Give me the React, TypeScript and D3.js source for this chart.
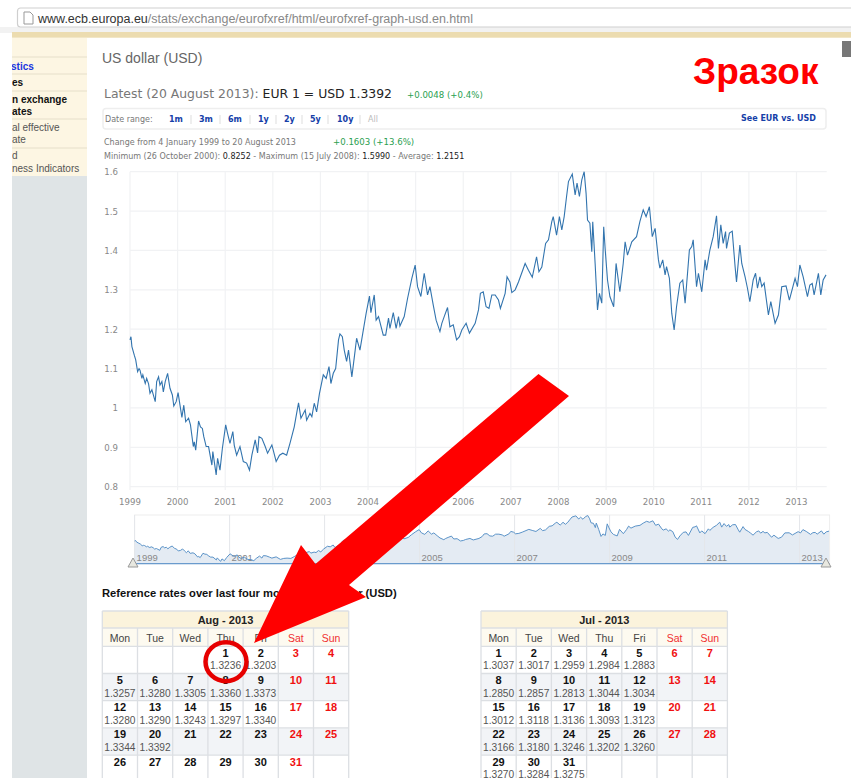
import React from "react";
import * as d3 from "d3";

const rateYears = [1999.00,1999.02,1999.04,1999.09,1999.12,1999.16,1999.19,1999.21,1999.25,1999.27,1999.32,1999.35,1999.39,1999.42,1999.46,1999.49,1999.53,1999.56,1999.60,1999.63,1999.67,1999.70,1999.74,1999.79,1999.84,1999.89,1999.92,1999.97,
2000.01,2000.05,2000.09,2000.13,2000.17,2000.23,2000.27,2000.33,2000.35,2000.38,2000.44,2000.48,2000.52,2000.55,2000.60,2000.65,2000.72,2000.74,2000.81,2000.84,2000.89,2000.94,
2001.01,2001.05,2001.10,2001.16,2001.19,2001.24,2001.31,2001.38,2001.45,2001.51,2001.56,2001.63,2001.68,2001.71,2001.77,2001.84,2001.89,2001.98,
2002.07,2002.14,2002.21,2002.29,2002.36,2002.45,2002.50,2002.54,2002.59,2002.68,2002.71,2002.78,2002.82,2002.87,2002.92,2002.98,
2003.06,2003.12,2003.18,2003.22,2003.27,2003.32,2003.38,2003.41,2003.46,2003.50,2003.55,2003.59,2003.66,2003.73,2003.76,2003.83,2003.89,2003.96,
2004.03,2004.06,2004.13,2004.17,2004.22,2004.32,2004.37,2004.43,2004.46,2004.53,2004.59,2004.64,2004.67,2004.76,2004.83,2004.92,2004.99,
2005.04,2005.11,2005.18,2005.25,2005.30,2005.37,2005.43,2005.51,2005.55,2005.60,2005.67,2005.72,2005.79,2005.86,2005.92,2005.97,
2006.06,2006.13,2006.25,2006.32,2006.36,2006.42,2006.48,2006.54,2006.60,2006.67,2006.74,2006.78,2006.88,2006.92,2006.98,
2007.02,2007.09,2007.16,2007.30,2007.37,2007.45,2007.54,2007.59,2007.65,2007.73,2007.79,2007.86,2007.89,2007.96,
2008.02,2008.07,2008.12,2008.17,2008.21,2008.29,2008.35,2008.39,2008.44,2008.49,2008.54,2008.58,2008.61,2008.66,2008.70,2008.72,2008.77,2008.82,2008.86,2008.91,2008.95,2008.98,
2009.03,2009.08,2009.16,2009.21,2009.29,2009.36,2009.40,2009.45,2009.54,2009.64,2009.71,2009.78,2009.84,2009.91,2009.97,
2010.03,2010.10,2010.13,2010.19,2010.24,2010.27,2010.33,2010.38,2010.43,2010.48,2010.55,2010.61,2010.66,2010.75,2010.80,2010.83,2010.90,2010.94,
2011.01,2011.08,2011.11,2011.18,2011.25,2011.32,2011.36,2011.41,2011.46,2011.51,2011.53,2011.59,2011.65,2011.71,2011.74,2011.81,2011.85,2011.92,2011.97,
2012.02,2012.09,2012.14,2012.18,2012.23,2012.27,2012.32,2012.41,2012.46,2012.55,2012.62,2012.69,2012.78,2012.85,2012.97,
2013.02,2013.07,2013.14,2013.23,2013.28,2013.33,2013.37,2013.46,2013.51,2013.56,2013.62];
const rateValues = [1.173,1.181,1.156,1.134,1.122,1.092,1.100,1.096,1.075,1.084,1.062,1.075,1.061,1.037,1.046,1.033,1.016,1.067,1.079,1.058,1.067,1.041,1.067,1.088,1.05,1.033,1.005,1.016,
1.039,1.007,.976,1.007,.965,.974,.957,.902,.914,.893,.967,.952,.948,.927,.902,.902,.855,.889,.83,.872,.842,.897,
.957,.935,.91,.94,.905,.88,.902,.864,.86,.842,.88,.919,.886,.927,.923,.902,.885,.906,
.864,.88,.885,.88,.91,.952,.986,1.013,.974,.995,.969,.986,.978,1.012,.99,1.037,
1.084,1.075,1.105,1.062,1.088,1.1,1.173,1.188,1.181,1.147,1.118,1.147,1.079,1.147,1.177,1.147,1.19,1.24,
1.284,1.242,1.287,1.223,1.232,1.185,1.185,1.228,1.202,1.242,1.202,1.232,1.208,1.232,1.278,1.329,1.363,
1.308,1.283,1.342,1.287,1.308,1.261,1.223,1.194,1.215,1.232,1.255,1.206,1.211,1.173,1.181,1.198,
1.215,1.19,1.215,1.249,1.291,1.295,1.257,1.253,1.287,1.287,1.274,1.253,1.291,1.333,1.32,
1.293,1.3,1.32,1.367,1.35,1.332,1.384,1.346,1.358,1.418,1.427,1.473,1.486,1.439,
1.486,1.452,1.486,1.537,1.575,1.594,1.541,1.571,1.537,1.579,1.6,1.545,1.477,1.469,1.397,1.473,1.367,1.249,1.291,1.266,1.46,1.405,
1.325,1.283,1.257,1.367,1.295,1.367,1.422,1.388,1.422,1.435,1.473,1.503,1.486,1.511,1.435,
1.456,1.376,1.355,1.376,1.338,1.359,1.329,1.24,1.198,1.257,1.317,1.325,1.266,1.401,1.41,1.427,1.308,1.342,
1.295,1.376,1.35,1.401,1.435,1.488,1.405,1.465,1.418,1.448,1.405,1.444,1.449,1.359,1.32,1.414,1.367,1.333,1.304,
1.27,1.325,1.342,1.304,1.333,1.308,1.317,1.236,1.27,1.215,1.236,1.308,1.31,1.274,1.329,
1.308,1.363,1.333,1.283,1.312,1.316,1.287,1.342,1.287,1.325,1.338];

const xTicks = [1999,2000,2001,2002,2003,2004,2005,2006,2007,2008,2009,2010,2011,2012,2013];
const yTicks = [0.8,0.9,1,1.1,1.2,1.3,1.4,1.5,1.6];
const navTicks = [1999,2001,2003,2005,2007,2009,2011,2013];
const rangeLinks: [string, number][] = [["1m",169],["3m",199],["6m",228],["1y",258],["2y",284],["5y",310],["10y",337]];
const rangeSeps = [191,220,250,276,302,328,360];
const weekdays = ["Mon","Tue","Wed","Thu","Fri","Sat","Sun"];
const augRates = ["1.3236","1.3203","","","1.3257","1.3280","1.3305","1.3360","1.3373","","","1.3280","1.3290","1.3243","1.3297","1.3340","","","1.3344","1.3392"];
const julRates = ["1.3037","1.3017","1.2959","1.2984","1.2883","","","1.2850","1.2857","1.2813","1.3044","1.3034","","","1.3012","1.3118","1.3136","1.3093","1.3123","","","1.3166","1.3180","1.3246","1.3202","1.3260","","","1.3270","1.3284","1.3275"];
const sideItems: [string, number, string, number][] = [["stics",70,"#1a35e0",700],["es",86,"#111",700],["n exchange",103,"#111",700],["ates",115,"#111",700],["al effective",131,"#555",400],["ate",143,"#555",400],["d",159,"#555",400],["ness Indicators",172,"#555",400]];
const sideLines = [57,74,91,119,148];

const SANS = "'Liberation Sans', Arial, sans-serif";
const DJ = "'DejaVu Sans', Verdana, sans-serif";

const x = d3.scaleLinear().domain([1999, 2013.63]).range([130, 826.5]);
const y = d3.scaleLinear().domain([0.8, 1.6]).range([486.7, 171.7]);
const navX = d3.scaleLinear().domain([1999, 2013.63]).range([134.6, 829.5]);
const navY = d3.scaleLinear().domain([0.825, 1.6]).range([561.7, 515.5]);
const idx = rateYears.map((_, i) => i);
const linePath = d3.line<number>().x(i => x(rateYears[i])).y(i => y(rateValues[i]))(idx) || "";
const navLine = d3.line<number>().x(i => navX(rateYears[i])).y(i => navY(rateValues[i]))(idx) || "";
const navArea = d3.area<number>().x(i => navX(rateYears[i])).y0(563.7).y1(i => navY(rateValues[i]))(idx) || "";

function Calendar({ left, title, offset, days, rates }: { left: number; title: string; offset: number; days: number; rates: string[] }) {
  const colW = 35.2;
  const W = colW * 7;
  const rowTop = 646.3;
  const rowH = 27.2;
  const cells = d3.range(days).map(i => {
    const pos = i + offset;
    return { day: i + 1, col: pos % 7, row: Math.floor(pos / 7), rate: rates[i] || "" };
  });
  const rows = d3.range(5);
  return (
    <g>
      <rect x={left} y={611} width={W} height={17} fill="#fbf3dc" />
      <rect x={left} y={628} width={W} height={18.3} fill="#fdfaf0" />
      {rows.map(r => <rect key={r} x={left} y={rowTop + r * rowH} width={W} height={rowH} fill={r % 2 ? "#f2f4f7" : "#fff"} />)}
      {d3.range(8).map(c => <line key={c} x1={left + c * colW} x2={left + c * colW} y1={c === 0 || c === 7 ? 611 : 628} y2={790} stroke="#dcdfe3" strokeWidth={1.3} />)}
      {[611, 628, 646.3, ...rows.map(r => rowTop + (r + 1) * rowH)].map(v => <line key={v} x1={left} x2={left + W} y1={v} y2={v} stroke="#dcdfe3" strokeWidth={1.3} />)}
      <text x={left + W / 2} y={624} textAnchor="middle" fontFamily={SANS} fontSize={11} fontWeight={700} fill="#222">{title}</text>
      {weekdays.map((w, c) => <text key={w} x={left + (c + 0.5) * colW} y={642} textAnchor="middle" fontFamily={SANS} fontSize={10.5} fill={c >= 5 ? "#f03030" : "#444"}>{w}</text>)}
      {cells.map(c => (
        <g key={c.day}>
          <text x={left + (c.col + 0.5) * colW} y={rowTop + c.row * rowH + 10.5} textAnchor="middle" fontFamily={SANS} fontSize={11} fontWeight={700} fill={c.col >= 5 ? "#f01010" : "#111"}>{c.day}</text>
          {c.rate && <text x={left + (c.col + 0.5) * colW} y={rowTop + c.row * rowH + 23} textAnchor="middle" fontFamily={SANS} fontSize={10.2} fill="#555">{c.rate}</text>}
        </g>
      ))}
    </g>
  );
}

export default function App() {
  return (
    <svg width={851} height={778} style={{ position: "absolute", left: 0, top: 0, background: "#fff" }}>
      <defs>
        <clipPath id="side"><rect x={12} y={38} width={75} height={740} /></clipPath>
      </defs>
      {/* browser bar */}
      <rect x={0} y={27} width={851} height={6} fill="#f2f2f2" />
      <rect x={17.5} y={8} width={840} height={19} rx={3} fill="#fff" stroke="#cfcfcf" strokeWidth={1.2} />
      <path d="M24 12h6l3 3v9h-9z" fill="#fff" stroke="#999" />
      <text x={38} y={22.5} fontFamily={SANS} fontSize={12.5}>
        <tspan fill="#333">www.ecb.europa.eu</tspan>
        <tspan fill="#888">/stats/exchange/eurofxref/html/eurofxref-graph-usd.en.html</tspan>
      </text>
      <rect x={12} y={32} width={839} height={5.7} fill="#ecdcb0" />
      {/* side panel */}
      <rect x={12} y={38} width={75} height={138} fill="#fdf6e3" />
      <rect x={12} y={176} width={75} height={602} fill="#dfe4e6" />
      {sideLines.map(v => <line key={v} x1={12} x2={87} y1={v} y2={v} stroke="#e6dfca" strokeWidth={1} />)}
      <g clipPath="url(#side)">
        {sideItems.map(([t, v, c, w]) => <text key={t} x={t === "stics" ? 11 : 12} y={v} fontFamily={SANS} fontSize={10} fontWeight={w} fill={c}>{t}</text>)}
      </g>
      {/* header */}
      <text x={102} y={63} fontFamily={SANS} fontSize={14} fill="#666">US dollar (USD)</text>
      <text x={693} y={84} fontFamily={SANS} fontSize={37} fontWeight={700} fill="#ff0000">Зразок</text>
      <rect x={842} y={41} width={9} height={16} fill="#777" />
      <text x={104} y={98} fontFamily={DJ} fontSize={12.4} fill="#777">Latest (20 August 2013): <tspan fill="#222">EUR 1 = USD 1.3392</tspan></text>
      <text x={407} y={98} fontFamily={DJ} fontSize={8.6} fill="#2aa050">+0.0048 (+0.4%)</text>
      <rect x={103} y={108.5} width={723} height={20.5} rx={3} fill="#fff" stroke="#eee" strokeWidth={1.5} />
      <text x={105} y={122} fontFamily={DJ} fontSize={8} fill="#777">Date range:</text>
      {rangeLinks.map(([t, px]) => <text key={t} x={px} y={122} fontFamily={DJ} fontSize={8} fontWeight={700} fill="#1540a8">{t}</text>)}
      <text x={368} y={122} fontFamily={DJ} fontSize={8} fill="#bbb">All</text>
      {rangeSeps.map(v => <line key={v} x1={v} x2={v} y1={115} y2={124} stroke="#ddd" />)}
      <text x={741} y={121} fontFamily={DJ} fontSize={8} fontWeight={700} fill="#1540a8">See EUR vs. USD</text>
      <text x={104} y={145} fontFamily={DJ} fontSize={8} fill="#777">Change from 4 January 1999 to 20 August 2013</text>
      <text x={333} y={145} fontFamily={DJ} fontSize={8.6} fill="#2aa050">+0.1603 (+13.6%)</text>
      <text x={104} y={159} fontFamily={DJ} fontSize={8} fill="#777">Minimum (26 October 2000): <tspan fill="#222">0.8252</tspan> - Maximum (15 July 2008): <tspan fill="#222">1.5990</tspan> - Average: <tspan fill="#222">1.2151</tspan></text>
      {/* main chart */}
      {yTicks.map(t => (
        <g key={t}>
          <line x1={130} x2={826.7} y1={y(t)} y2={y(t)} stroke="#f1f2f4" strokeWidth={1.3} />
          <text x={118} y={y(t) + 3.5} textAnchor="end" fontFamily={DJ} fontSize={8.6} fill="#888">{t}</text>
        </g>
      ))}
      {xTicks.map(t => (
        <g key={t}>
          <line x1={x(t)} x2={x(t)} y1={171.7} y2={490} stroke="#f1f2f4" strokeWidth={1.2} />
          <text x={x(t)} y={505} textAnchor="middle" fontFamily={DJ} fontSize={8.6} fill="#888">{t}</text>
        </g>
      ))}
      <path d={linePath} fill="none" stroke="#3274ae" strokeWidth={1.1} />
      {/* navigator */}
      <rect x={134.6} y={515} width={695} height={48.7} fill="none" stroke="#eee" />
      <path d={navArea} fill="#e4ebf3" />
      {navTicks.map(t => (
        <g key={t}>
          <line x1={navX(t)} x2={navX(t)} y1={515} y2={563.7} stroke="#e4e6ea" />
          <text x={navX(t) + 2} y={560.5} fontFamily={SANS} fontSize={9.5} fill="#888">{t}</text>
        </g>
      ))}
      <path d={navLine} fill="none" stroke="#5b93c8" strokeWidth={1} />
      <line x1={134.6} x2={829.5} y1={563.7} y2={563.7} stroke="#6a9bcd" strokeWidth={1.2} />
      <path d="M133 558l5 9h-10z" fill="#e8e8e0" stroke="#999" />
      <path d="M826 558l5 9h-10z" fill="#e8e8e0" stroke="#999" />
      <text x={102} y={597} fontFamily={SANS} fontSize={11.2} fontWeight={700} fill="#111">Reference rates over last four months - US dollar (USD)</text>
      <Calendar left={102.3} title="Aug - 2013" offset={3} days={31} rates={augRates} />
      <Calendar left={481} title="Jul - 2013" offset={0} days={31} rates={julRates} />
      {/* annotation */}
      <path d="M538.5 374L569 396L349 585L366 597L254 643L301 545L315.5 564Z" fill="#ff0000" />
      <ellipse cx={226} cy={661.7} rx={20.5} ry={19.5} fill="none" stroke="#e60000" strokeWidth={4.5} />
    </svg>
  );
}
